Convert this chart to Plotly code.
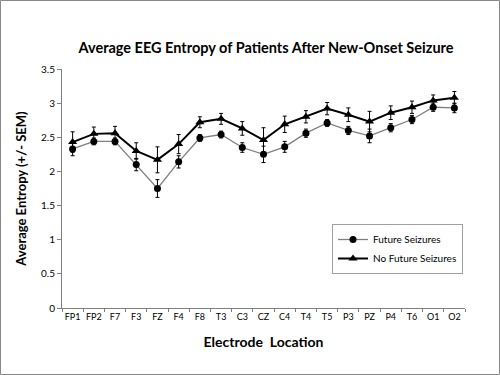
import plotly.graph_objects as go

electrodes = ["FP1", "FP2", "F7", "F3", "FZ", "F4", "F8", "T3", "C3", "CZ",
              "C4", "T4", "T5", "P3", "PZ", "P4", "T6", "O1", "O2"]
future = [2.33, 2.44, 2.44, 2.10, 1.75, 2.14, 2.49, 2.54, 2.35, 2.25,
          2.36, 2.56, 2.71, 2.60, 2.52, 2.64, 2.76, 2.94, 2.93]
future_sem = [0.10, 0.05, 0.05, 0.09, 0.13, 0.09, 0.05, 0.05, 0.07, 0.12,
              0.08, 0.06, 0.05, 0.06, 0.10, 0.06, 0.06, 0.06, 0.07]
no_future = [2.43, 2.55, 2.56, 2.30, 2.17, 2.40, 2.72, 2.77, 2.63, 2.46,
             2.69, 2.80, 2.92, 2.83, 2.73, 2.86, 2.94, 3.04, 3.08]
no_future_sem = [0.15, 0.10, 0.10, 0.12, 0.19, 0.14, 0.08, 0.08, 0.10, 0.18,
                 0.12, 0.09, 0.09, 0.10, 0.15, 0.10, 0.09, 0.08, 0.09]

FONT = "Lato"

fig = go.Figure()
fig.add_trace(go.Scatter(
    x=electrodes, y=future, name="Future Seizures", mode="lines+markers",
    line=dict(color="#7f7f7f", width=1.3),
    marker=dict(symbol="circle", size=7, color="black"),
    error_y=dict(type="data", array=future_sem, color="black", thickness=1, width=2),
))
fig.add_trace(go.Scatter(
    x=electrodes, y=no_future, name="No Future Seizures", mode="lines+markers",
    line=dict(color="black", width=2),
    marker=dict(symbol="triangle-up", size=8, color="black"),
    error_y=dict(type="data", array=no_future_sem, color="black", thickness=1, width=2),
))

L, R, T, B = 62, 465, 69, 308
W, H = 500, 375
pw, ph = R - L, B - T

fig.update_layout(
    width=W, height=H,
    margin=dict(l=L, r=W - R, t=T, b=H - B),
    paper_bgcolor="white", plot_bgcolor="white",
    font=dict(family=FONT, color="black", size=10),
    title=dict(text="<b>Average EEG Entropy of Patients After New-Onset Seizure</b>",
               x=266 / W, xanchor="center", y=1 - 48 / H, yanchor="middle",
               font=dict(size=14.5, family=FONT, color="black")),
    showlegend=True,
    legend=dict(x=(332 - L) / pw, y=1 - (224 - T) / ph, xanchor="left", yanchor="top",
                bordercolor="#a0a0a0", borderwidth=1, bgcolor="white",
                font=dict(size=10, family=FONT), tracegroupgap=2,
                itemwidth=30),
    xaxis=dict(
        type="category", showgrid=False, showline=True, linecolor="#808080", linewidth=1,
        ticks="outside", tickson="boundaries", ticklen=3, tickcolor="#808080",
        tickangle=0, tickfont=dict(size=9, family=FONT),
        title=dict(text="<b>Electrode  Location</b>", font=dict(size=14, family=FONT), standoff=16),
        range=[-0.5, 18.5],
    ),
    yaxis=dict(
        range=[0, 3.5], dtick=0.5, showgrid=False, showline=True, linecolor="#808080",
        linewidth=1, ticks="outside", ticklen=4, tickcolor="#808080",
        tickfont=dict(size=10, family=FONT), zeroline=False,
        title=dict(text="<b>Average Entropy (+/- SEM)</b>", font=dict(size=13, family=FONT), standoff=11),
    ),
    shapes=[dict(type="rect", xref="paper", yref="paper",
                 x0=(0.5 - L) / pw, x1=(W - 0.5 - L) / pw,
                 y0=(B - (H - 0.5)) / ph, y1=(B - 0.5) / ph,
                 line=dict(color="#888888", width=1), fillcolor="rgba(0,0,0,0)")],
)

fig.write_html("out.html", config={"displayModeBar": False},
               post_script="document.body.style.margin='0';document.body.style.overflow='hidden';")
